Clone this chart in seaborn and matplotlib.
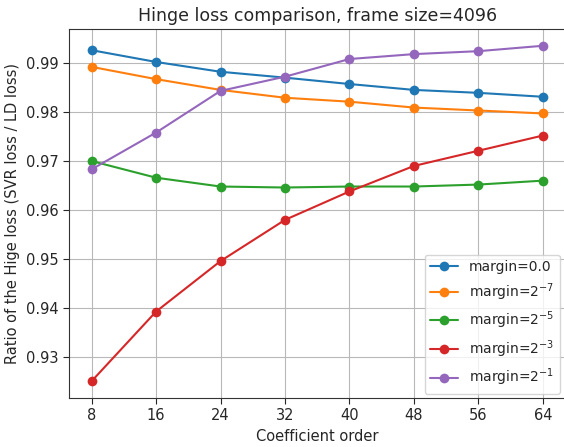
import pandas as pd
import matplotlib
matplotlib.use('Agg')
import matplotlib.pyplot as plt
import seaborn as sns

# coefficient orders on the x axis
orders = [8, 16, 24, 32, 40, 48, 56, 64]

# ratio of SVR loss / LD loss for each margin
margin_0 = [0.9926, 0.9902, 0.9882, 0.9870, 0.9857, 0.9845, 0.9839, 0.9831]
margin_2m7 = [0.9892, 0.9867, 0.9845, 0.9829, 0.9821, 0.9809, 0.9803, 0.9797]
margin_2m5 = [0.9700, 0.9666, 0.9648, 0.9646, 0.9648, 0.9648, 0.9652, 0.9660]
margin_2m3 = [0.9251, 0.9393, 0.9496, 0.9580, 0.9638, 0.9690, 0.9721, 0.9752]
margin_2m1 = [0.9683, 0.9758, 0.9843, 0.9872, 0.9908, 0.9918, 0.9924, 0.9935]

labels = ['margin=0.0', 'margin=$2^{-7}$', 'margin=$2^{-5}$',
          'margin=$2^{-3}$', 'margin=$2^{-1}$']
series = [margin_0, margin_2m7, margin_2m5, margin_2m3, margin_2m1]

# long format for seaborn
rows = []
for lab, vals in zip(labels, series):
    for o, v in zip(orders, vals):
        rows.append({'order': o, 'ratio': v, 'margin': lab})
df = pd.DataFrame(rows)

sns.set_style('whitegrid', {'axes.edgecolor': '0.2', 'grid.color': '#b8b8b8'})
plt.rcParams['font.family'] = ['DejaVu Sans']
plt.rcParams['mathtext.fontset'] = 'dejavusans'

fig = plt.figure(figsize=(5.64, 4.47), dpi=100)
# axes runs slightly past the right edge of the picture, as in the original
ax = fig.add_axes([69 / 564, 49 / 447, 496.5 / 564, 369 / 447])
sns.lineplot(data=df, x='order', y='ratio', hue='margin', hue_order=labels,
             palette='tab10', marker='o', markersize=7, markeredgewidth=0,
             linewidth=1.5, ax=ax)

ax.set_xticks(orders)
ax.set_yticks([0.93, 0.94, 0.95, 0.96, 0.97, 0.98, 0.99])
ax.tick_params(axis='both', which='both', direction='out', length=4,
               left=True, bottom=True, labelsize=10.5, colors='0.15')
ax.set_title('Hinge loss comparison, frame size=4096', fontsize=12.5)
ax.set_xlabel('Coefficient order', fontsize=10.5)
ax.set_ylabel('Ratio of the Hige loss (SVR loss / LD loss)', fontsize=10.5)
ax.legend(loc='lower right', bbox_to_anchor=(560 / 564, 53 / 447),
          bbox_transform=fig.transFigure, fontsize=10, frameon=True,
          borderaxespad=0)

fig.savefig('out.png', dpi=100)
